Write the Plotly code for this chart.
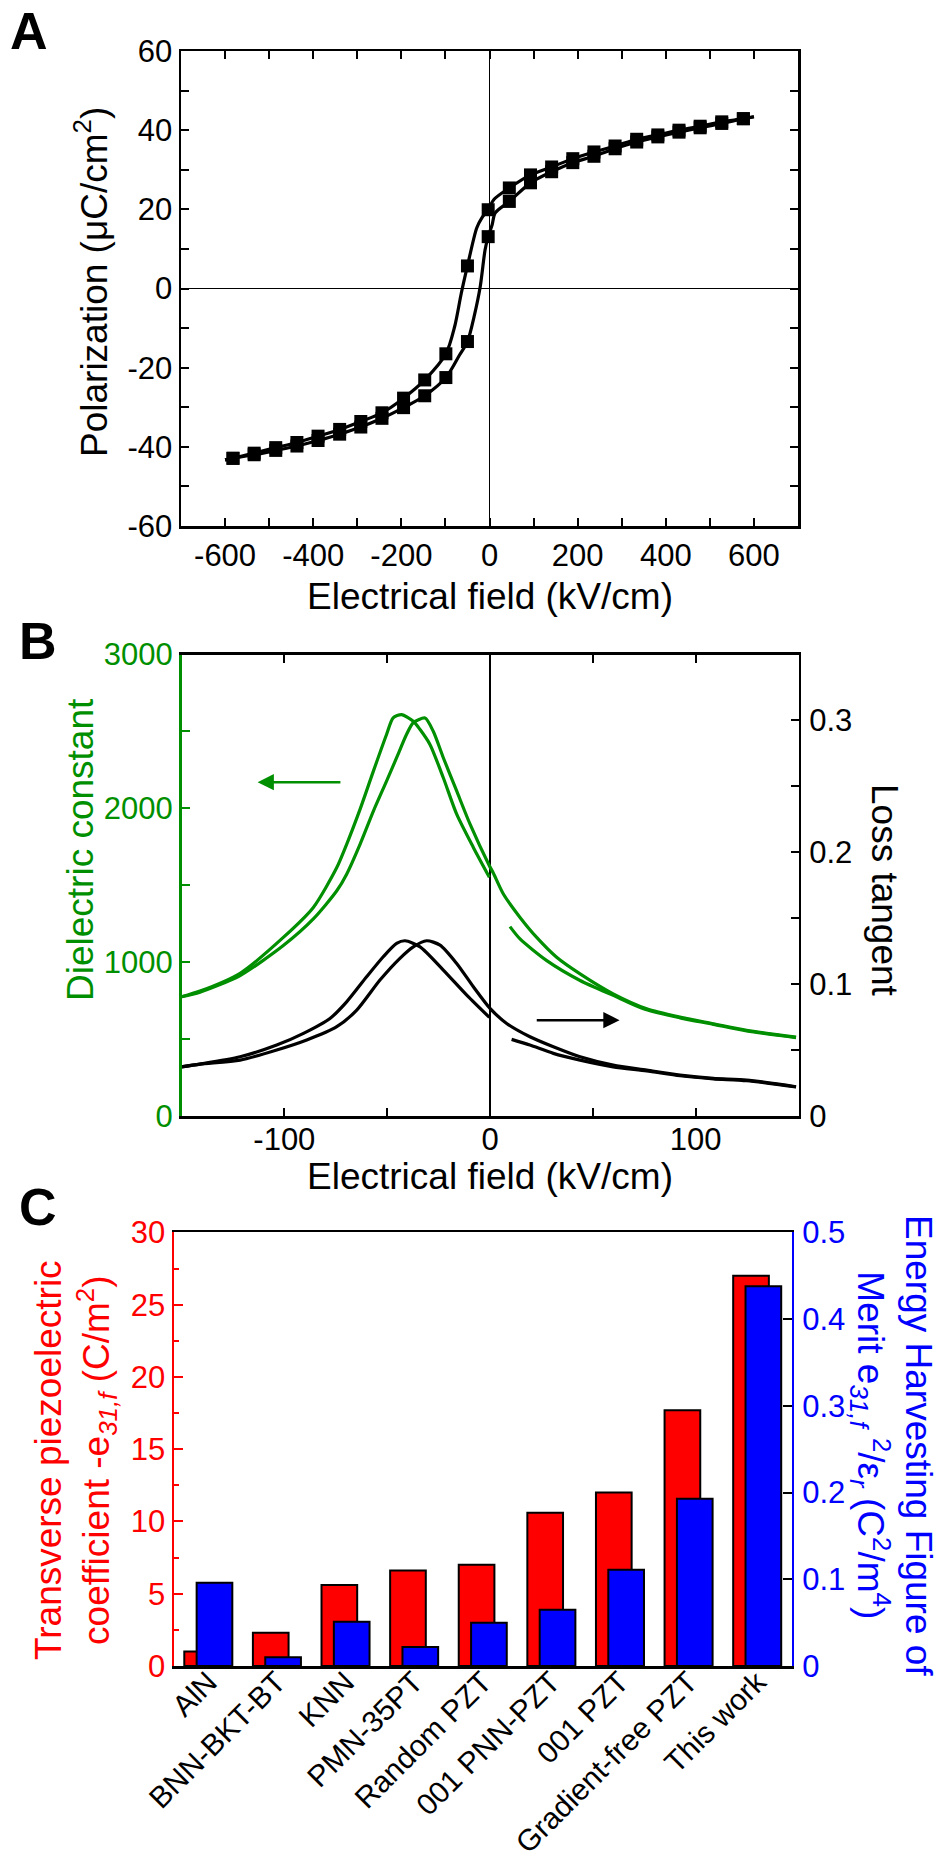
import plotly.graph_objects as go

FONT = "Liberation Sans, Arial, Helvetica, sans-serif"
W, H = 938, 1865
GREEN = "#008f00"
RED = "#ff0000"
BLUE = "#0000ff"

# ---------------- Panel A: P-E hysteresis ----------------
A_E_markers = [-582, -534, -485, -437, -389, -340, -292, -244, -195, -147, -99, -50, -3,
               45, 93, 141, 189, 237, 285, 334, 382, 430, 478, 527, 576]
A_P_upper = [-42.9, -41.6, -40.2, -38.9, -37.3, -35.6, -33.6, -31.4, -27.7, -23.1, -16.5, 5.7, 19.9,
             25.4, 28.7, 30.7, 32.8, 34.5, 36.0, 37.7, 38.8, 40.0, 41.0, 42.1, 42.9]
A_P_lower = [-42.9, -42.0, -40.9, -39.8, -38.4, -36.8, -35.0, -32.8, -30.1, -27.1, -22.5, -13.4, 13.1,
             22.0, 26.7, 29.5, 31.8, 33.4, 35.3, 37.0, 38.3, 39.5, 40.6, 41.7, 42.9]
# traced line paths (markers plus extra points)
A_E_upper_line = [-600, -582, -534, -485, -437, -389, -340, -292, -244, -195, -147, -99, -79, -64, -50,
                  -29, -17, -3, 10, 45, 93, 141, 189, 237, 285, 334, 382, 430, 478, 527, 576, 600]
A_P_upper_line = [-43.3, -42.9, -41.6, -40.2, -38.9, -37.3, -35.6, -33.6, -31.4, -27.7, -23.1, -16.5, -9.6, -1.2, 5.7,
                  15.3, 17.9, 19.9, 22.5, 25.4, 28.7, 30.7, 32.8, 34.5, 36.0, 37.7, 38.8, 40.0, 41.0, 42.1, 42.9, 43.4]
A_E_lower_line = [-600, -582, -534, -485, -437, -389, -340, -292, -244, -195, -147, -99, -68, -50,
                  -35, -21, -10, -3, 6, 13, 45, 93, 141, 189, 237, 285, 334, 382, 430, 478, 527, 576, 600]
A_P_lower_line = [-43.3, -42.9, -42.0, -40.9, -39.8, -38.4, -36.8, -35.0, -32.8, -30.1, -27.1, -22.5, -16.8, -13.4,
                  -7.1, 0.5, 9.8, 13.1, 16.1, 19.1, 22.0, 26.7, 29.5, 31.8, 33.4, 35.3, 37.0, 38.3, 39.5, 40.6, 41.7, 42.9, 43.4]
A_xticks = [-600, -400, -200, 0, 200, 400, 600]
A_xminor = [-700, -500, -300, -100, 100, 300, 500, 700]
A_yticks = [-60, -40, -20, 0, 20, 40, 60]
A_yminor = [-50, -30, -10, 10, 30, 50]

# ---------------- Panel B: dielectric constant / loss ----------------
B_E_g1 = [-150, -141, -121.5, -100.5, -85.9, -74.5, -69.7, -63.2, -56.7, -50.3, -47.1, -43, -37.3, -34, -29.2,
          -22.7, -16.2, -8.1, -0.3, None, 9.7, 14.6, 27.6, 43.8, 59.9, 76.2, 92.4, 108.6, 124.8, 148.8]
B_D_g1 = [775, 812, 928, 1161, 1356, 1615, 1766, 1993, 2242, 2480, 2588, 2609, 2566, 2512, 2415,
          2199, 1962, 1746, 1552, None, 1231, 1151, 1010, 881, 784, 690, 638, 596, 553, 510]
B_E_g2 = [-150, -141, -121.5, -100.5, -85.9, -74.5, -69.7, -63.2, -56.7, -50.3, -45.4, -40.6, -37.3, -31.6,
          -27.6, -22.7, -16.2, -9.7, -0.3, 1.6, 6.5, 14.6, 22.7, 32.4, 43.8, 59.9, 76.2, 92.4, 108.6, 124.8, 148.8]
B_D_g2 = [775, 805, 913, 1108, 1281, 1464, 1572, 1766, 1982, 2177, 2329, 2480, 2556, 2587,
          2501, 2329, 2113, 1897, 1627, 1580, 1443, 1291, 1161, 1032, 924, 794, 697, 643, 600, 557, 513]
B_E_b1 = [-150, -141, -121.5, -103.7, -90.7, -77.8, -69.7, -60, -51.9, -45.4, -41.3, -34, -22.7, -11.3, -0.3,
          None, 10.5, 19.4, 30.8, 43.8, 59.9, 76.2, 92.4, 108.6, 124.8, 148.8]
B_L_b1 = [0.0373, 0.0394, 0.0449, 0.0538, 0.0627, 0.0740, 0.0866, 0.1056, 0.1208, 0.1309, 0.1329, 0.1283, 0.1107, 0.0917, 0.0748,
          None, 0.0581, 0.0538, 0.0475, 0.0424, 0.0373, 0.0342, 0.0305, 0.0282, 0.0268, 0.0220]
B_E_b2 = [-150, -141, -121.5, -103.7, -89.1, -74.5, -64.8, -53.5, -43.8, -37.3, -30.8, -24.3, -16.2, -8.1, 0,
          8.1, 19.4, 30.8, 43.8, 59.9, 76.2, 92.4, 108.6, 124.8, 148.8]
B_L_b2 = [0.0373, 0.0394, 0.0424, 0.0500, 0.0576, 0.0677, 0.0803, 0.1031, 0.1196, 0.1283, 0.1329, 0.1296, 0.1157, 0.0980, 0.0816,
          0.0702, 0.0601, 0.0525, 0.0449, 0.0386, 0.0348, 0.0310, 0.0285, 0.0272, 0.0222]
B_xticks = [-100, 0, 100]
B_xminor = [-150, -50, 50, 150]
B_yticks = [0, 1000, 2000, 3000]
B_yminor = [500, 1500, 2500]
B_y2ticks = [0, 0.1, 0.2, 0.3]
B_y2minor = [0.05, 0.15, 0.25]

# ---------------- Panel C: bars ----------------
C_categories = ["AlN", "BNN-BKT-BT", "KNN", "PMN-35PT", "Random PZT", "001 PNN-PZT",
                "001 PZT", "Gradient-free PZT", "This work"]
C_e31 = [1.0, 2.3, 5.6, 6.6, 7.0, 10.6, 12.0, 17.7, 27.0]
C_fom = [0.096, 0.010, 0.051, 0.022, 0.050, 0.065, 0.111, 0.193, 0.438]
C_yticks = [0, 5, 10, 15, 20, 25, 30]
C_yminor = [2.5, 7.5, 12.5, 17.5, 22.5, 27.5]
C_y2ticks = [0, 0.1, 0.2, 0.3, 0.4, 0.5]


def lab(v):
    return "%g" % v


def px(v):
    return v / W


def py(v):
    return 1 - v / H


fig = go.Figure()

# Panel A traces
fig.add_trace(go.Scatter(x=A_E_upper_line, y=A_P_upper_line, mode="lines",
                         line=dict(color="black", width=3.2, shape="spline", smoothing=0.8),
                         xaxis="x", yaxis="y"))
fig.add_trace(go.Scatter(x=A_E_lower_line, y=A_P_lower_line, mode="lines",
                         line=dict(color="black", width=3.2, shape="spline", smoothing=0.8),
                         xaxis="x", yaxis="y"))
for P in (A_P_upper, A_P_lower):
    fig.add_trace(go.Scatter(x=A_E_markers, y=P, mode="markers",
                             marker=dict(symbol="square", size=13, color="black"),
                             xaxis="x", yaxis="y"))

# Panel B traces
fig.add_trace(go.Scatter(x=B_E_g1, y=B_D_g1, mode="lines", connectgaps=False,
                         line=dict(color=GREEN, width=3.2, shape="spline", smoothing=0.7),
                         xaxis="x2", yaxis="y2"))
fig.add_trace(go.Scatter(x=B_E_g2, y=B_D_g2, mode="lines",
                         line=dict(color=GREEN, width=3.2, shape="spline", smoothing=0.7),
                         xaxis="x2", yaxis="y2"))
fig.add_trace(go.Scatter(x=B_E_b1, y=B_L_b1, mode="lines", connectgaps=False,
                         line=dict(color="black", width=3.2, shape="spline", smoothing=0.7),
                         xaxis="x2", yaxis="y3"))
fig.add_trace(go.Scatter(x=B_E_b2, y=B_L_b2, mode="lines",
                         line=dict(color="black", width=3.2, shape="spline", smoothing=0.7),
                         xaxis="x2", yaxis="y3"))

# Panel C traces
fig.add_trace(go.Bar(x=C_categories, y=C_e31, offset=-0.35, width=0.52,
                     marker=dict(color=RED, line=dict(color="black", width=2)),
                     xaxis="x3", yaxis="y4"))
fig.add_trace(go.Bar(x=C_categories, y=C_fom, offset=-0.17, width=0.52,
                     marker=dict(color=BLUE, line=dict(color="black", width=2)),
                     xaxis="x3", yaxis="y5"))

tf = dict(family=FONT, size=31)


def axis(**kw):
    base = dict(showgrid=False, ticks="inside", ticklen=8, tickwidth=2, tickcolor="black",
                showline=True, linewidth=2.5, linecolor="black", zeroline=False, automargin=False,
                tickfont=dict(tf, color="black"), tickmode="array", fixedrange=True)
    base.update(kw)
    return base


def minor(vals, color="black", length=8):
    return dict(tickmode="array", tickvals=vals, ticks="inside", ticklen=length, tickwidth=2, tickcolor=color)


fig.update_layout(
    width=W, height=H, margin=dict(l=0, r=0, t=0, b=0, autoexpand=False),
    paper_bgcolor="white", plot_bgcolor="white", showlegend=False,
    font=dict(family=FONT, size=31, color="black"), barmode="overlay",
    xaxis=axis(domain=[px(181), px(798)], anchor="y", range=[-700, 700],
               tickvals=A_xticks, ticktext=[lab(v) for v in A_xticks], minor=minor(A_xminor),
               mirror="ticks", zeroline=True, zerolinewidth=1.2, zerolinecolor="black",
               ticklabelstandoff=0),
    yaxis=axis(domain=[py(526), py(51)], anchor="x", range=[-60, 60],
               tickvals=A_yticks, ticktext=[lab(v) for v in A_yticks], minor=minor(A_yminor),
               mirror="ticks", zeroline=True, zerolinewidth=1.2, zerolinecolor="black",
               ticklabelstandoff=0),
    xaxis2=axis(domain=[px(181.5), px(798.5)], anchor="y2", range=[-150, 150],
                tickvals=B_xticks, ticktext=[lab(v) for v in B_xticks], minor=minor(B_xminor),
                mirror="ticks", zeroline=True, zerolinewidth=1.5, zerolinecolor="black",
                ticklabelstandoff=-6),
    yaxis2=axis(domain=[py(1116), py(654.5)], anchor="x2", range=[0, 3000],
                tickvals=B_yticks, ticktext=[lab(v) for v in B_yticks], minor=minor(B_yminor, GREEN),
                linecolor=GREEN, tickcolor=GREEN, tickfont=dict(tf, color=GREEN),
                ticklabelstandoff=0),
    yaxis3=axis(domain=[py(1116), py(654.5)], anchor="x2", overlaying="y2", side="right",
                range=[0, 0.35], tickvals=B_y2ticks, ticktext=[lab(v) for v in B_y2ticks],
                minor=minor(B_y2minor), ticklabelstandoff=2),
    xaxis3=axis(domain=[px(174), px(791.5)], anchor="y4", range=[-0.5, 8.5], type="category",
                tickmode="auto", ticks="", mirror=True, tickangle=-45, ticklabelstandoff=-16,
                tickfont=dict(family=FONT, size=30, color="black")),
    yaxis4=axis(domain=[py(1666), py(1232.4)], anchor="x3", range=[0, 30],
                tickvals=C_yticks, ticktext=[lab(v) for v in C_yticks],
                minor=minor(C_yminor, RED, 5), ticklen=9,
                linecolor=RED, tickcolor=RED, tickfont=dict(tf, color=RED), ticklabelstandoff=0),
    yaxis5=axis(domain=[py(1666), py(1232.4)], anchor="x3", overlaying="y4", side="right",
                range=[0, 0.5], tickvals=C_y2ticks, ticktext=[lab(v) for v in C_y2ticks],
                ticklen=9, linecolor=BLUE, tickcolor="black", tickfont=dict(tf, color=BLUE),
                ticklabelstandoff=2),
)

T = 37
ann = []


def text_ann(txt, x, y, size=T, color="black", angle=0, bold=False):
    ann.append(dict(text=("<b>%s</b>" % txt) if bold else txt, x=px(x), y=py(y), xref="paper", yref="paper",
                    showarrow=False, textangle=angle, xanchor="center", yanchor="middle",
                    font=dict(family=FONT, size=size, color=color)))


# panel letters
text_ann("A", 29, 31, size=52, bold=True)
text_ann("B", 38, 641, size=52, bold=True)
text_ann("C", 38, 1207, size=52, bold=True)

# Panel A titles
text_ann("Electrical field (kV/cm)", 489.5, 597)
text_ann("Polarization (μC/cm<sup>2</sup>)", 91, 282, angle=-90)

# Panel B titles
text_ann("Electrical field (kV/cm)", 490, 1176)
text_ann("Dielectric constant", 80, 850, color=GREEN, angle=-90)
text_ann("Loss tangent", 885, 890, angle=90)

# Panel C titles
text_ann("Transverse piezoelectric<br>coefficient -e<sub><i>31,f</i></sub> (C/m<sup>2</sup>)",
         75, 1460, color=RED, angle=-90)
text_ann("Energy Harvesting Figure of<br>Merit e<sub><i>31,f</i></sub> <sup>2</sup>/ε<sub><i>r</i></sub> (C<sup>2</sup>/m<sup>4</sup>)",
         892, 1445, color=BLUE, angle=90)

# arrows in panel B
ann.append(dict(x=-113, y=2170, ax=-72, ay=2170, xref="x2", yref="y2", axref="x2", ayref="y2",
                text="", showarrow=True, arrowhead=2, arrowsize=1.3, arrowwidth=2.5, arrowcolor=GREEN))
ann.append(dict(x=63, y=0.0727, ax=22, ay=0.0727, xref="x2", yref="y3", axref="x2", ayref="y3",
                text="", showarrow=True, arrowhead=2, arrowsize=1.3, arrowwidth=2.5, arrowcolor="black"))

fig.update_layout(annotations=ann)

fig.write_html("out.html", config={"displayModeBar": False, "staticPlot": True},
               post_script="document.body.style.margin='0';document.body.style.padding='0';"
                           "document.documentElement.style.overflow='hidden';")
